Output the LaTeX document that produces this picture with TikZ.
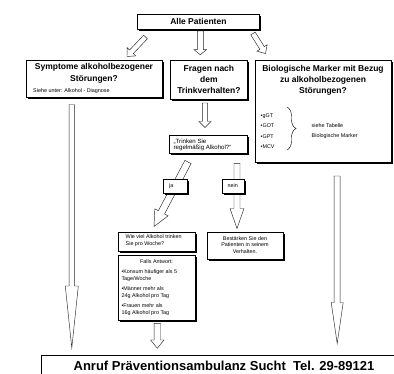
\documentclass[tikz,border=0pt]{standalone}
\usepackage{fontspec}
\setmainfont{Liberation Sans}
\usetikzlibrary{calc,shadows,decorations.pathreplacing}
\tikzset{
  box/.style={draw, line width=0.8pt, fill=white,
    drop shadow={shadow xshift=1.1pt, shadow yshift=-1.1pt, opacity=1, fill=black},
    inner sep=0pt, anchor=north west},
  hdr/.style={font=\fontsize{8.5}{11}\selectfont\bfseries, align=center, inner sep=0pt},
  small/.style={font=\fontsize{5.4}{7}\selectfont, inner sep=0pt},
  arrowline/.style={draw=black!85, line width=0.45pt, fill=white, line join=miter},
}
\newcommand\hollowarr[5]{% tail, tip, shaft half width, head half width, head length
  \path ($(#2)!#5!(#1)$) coordinate (hbase);
  \draw[arrowline] ($(#1)!#3!90:(#2)$) -- ($(hbase)!#3!-90:(#1)$) -- ($(hbase)!#4!-90:(#1)$)
    -- (#2) -- ($(hbase)!#4!90:(#1)$) -- ($(hbase)!#3!90:(#1)$) -- ($(#1)!#3!-90:(#2)$) -- cycle;
}
\begin{document}
\begin{tikzpicture}[x=1pt,y=-1pt]
\useasboundingbox[fill=white] (0,0) rectangle (394,373);

% arrow end points
\coordinate (a1t) at (145.5,37);   \coordinate (a1h) at (127,56.5);
\coordinate (a2t) at (200.3,31);   \coordinate (a2h) at (200.3,54.7);
\coordinate (a3t) at (253,33.5);   \coordinate (a3h) at (265.5,53.5);
\coordinate (a4t) at (71.8,104.5); \coordinate (a4h) at (71.8,348);
\coordinate (a5t) at (337.2,176);  \coordinate (a5h) at (337.2,343.5);
\coordinate (a6t) at (205,103);    \coordinate (a6h) at (205,127.5);
\coordinate (a7t) at (188,162);    \coordinate (a7h) at (154,226.5);
\coordinate (a8t) at (237,163.3);  \coordinate (a8h) at (237,228.5);
\coordinate (a9t) at (157.3,323.3);\coordinate (a9h) at (157.3,348.3);

\hollowarr{a1t}{a1h}{2.6pt}{6pt}{6.5pt}
\hollowarr{a2t}{a2h}{3pt}{6.2pt}{5pt}
\hollowarr{a3t}{a3h}{2.6pt}{6pt}{6.5pt}
\hollowarr{a4t}{a4h}{2.6pt}{6.5pt}{62pt}
\hollowarr{a5t}{a5h}{3pt}{6pt}{41pt}
\hollowarr{a6t}{a6h}{2.7pt}{6pt}{6pt}
\hollowarr{a7t}{a7h}{3.5pt}{7.5pt}{16pt}
\hollowarr{a8t}{a8h}{3pt}{7pt}{20pt}
\hollowarr{a9t}{a9h}{3.2pt}{6.7pt}{8.3pt}

% boxes
\node[box, minimum width=122pt, minimum height=15pt, hdr] (alle) at (137,14) {Alle Patienten};
\node[box, minimum width=136pt, minimum height=37pt] (sym) at (26,60) {};
\node[box, minimum width=77pt, minimum height=39pt, hdr] (fragen) at (170,60) {Fragen nach\\dem\\Trinkverhalten?};
\node[box, minimum width=136pt, minimum height=102pt] (bio) at (255,60) {};
\node[box, minimum width=78pt, minimum height=18pt] (trinken) at (169,135) {};
\node[box, minimum width=24pt, minimum height=14pt] (ja) at (163,179) {};
\node[box, minimum width=22pt, minimum height=14pt] (nein) at (222,179) {};
\node[box, minimum width=77pt, minimum height=19pt] (wie) at (118,232) {};
\node[box, minimum width=76pt, minimum height=27pt] (best) at (207,232) {};
\node[box, minimum width=77pt, minimum height=65pt] (falls) at (118,255) {};
\node[draw, line width=0.9pt, inner sep=0pt, anchor=north west, minimum width=370pt, minimum height=30pt] (bottom) at (41,355) {};

% texts
\node[hdr, font=\fontsize{8.5}{12}\selectfont\bfseries] (symt) at (94,73.3) {Symptome alkoholbezogener\\Störungen?};
\node[small, anchor=west] (syms) at (33,91) {Siehe unter: Alkohol - Diagnose};

\node[hdr, font=\fontsize{8.5}{10.8}\selectfont\bfseries] (biot) at (323,80.3) {Biologische Marker mit Bezug\\zu alkoholbezogenen\\Störungen?};
\node[small, anchor=west, align=left, font=\fontsize{5.4}{10.5}\selectfont] (biol) at (260.5,131) {•gGT\\•GOT\\•GPT\\•MCV};
\node[small, anchor=west, align=left, font=\fontsize{5.4}{10.5}\selectfont] (biotab) at (311.5,131.3) {siehe Tabelle\\Biologische Marker};
\draw[line width=0.45pt, decorate, decoration={brace, amplitude=9pt}] (287,107) coordinate (br1) -- (287,150) coordinate (br2);

\node[small, anchor=west, align=left, font=\fontsize{6.1}{6.8}\selectfont] (trt) at (173.5,145) {„Trinken Sie\\regelmäßig Alkohol?“};
\node[small, anchor=west] (jat) at (169,186) {ja};
\node[small, anchor=west] (neint) at (227.5,186) {nein};

\node[small, anchor=west, align=left] (wiet) at (125.5,241) {Wie viel Alkohol trinken\\Sie pro Woche?};
\node[small, align=center, font=\fontsize{5.4}{6.5}\selectfont] (bestt) at (245,244.7) {Bestärken Sie den\\Patienten in seinem\\Verhalten.};

\node[small] (fallst) at (156.5,261.5) {Falls Antwort:};
\node[small, anchor=west, align=left] (f1) at (121.3,275.5) {•Konsum häufiger als 5\\Tage/Woche};
\node[small, anchor=west, align=left] (f2) at (121.3,293) {•Männer mehr als\\24g Alkohol pro Tag};
\node[small, anchor=west, align=left] (f3) at (121.3,310) {•Frauen mehr als\\16g Alkohol pro Tag};

\node[inner sep=0pt, font=\fontsize{13}{15}\selectfont\bfseries] (anruf) at (224,365.5) {Anruf Präventionsambulanz Sucht\ \ Tel. 29-89121};
\end{tikzpicture}
\end{document}
